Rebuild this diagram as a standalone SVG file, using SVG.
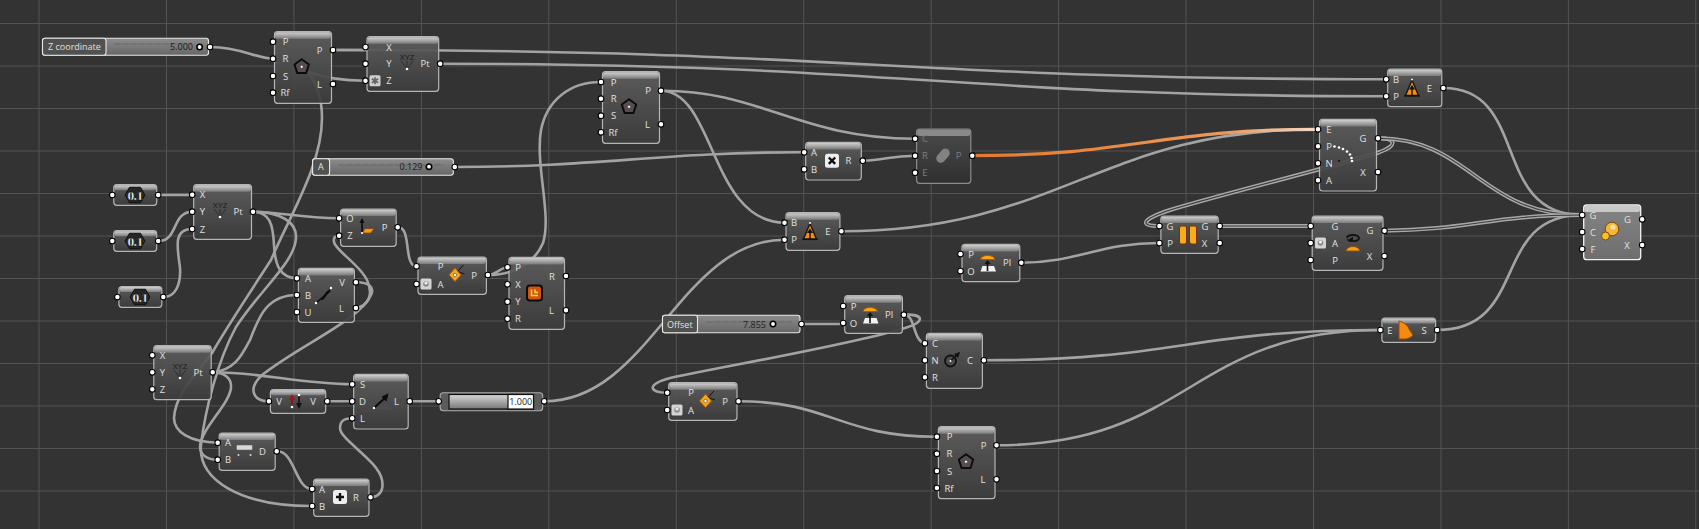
<svg xmlns="http://www.w3.org/2000/svg" xmlns:xlink="http://www.w3.org/1999/xlink" width="1699" height="529" viewBox="0 0 1699 529">
<style>
.g{stroke:#535353;stroke-width:1;fill:none}
.w{fill:none;stroke:#a3a3a3;stroke-width:2.6;stroke-linecap:round}
.d{fill:none;stroke:#a8a8a8;stroke-width:4}
.di{fill:none;stroke:#3c3c3c;stroke-width:1.1}
.b{fill:url(#body);stroke:#b5b5b5;stroke-width:1.2;fill-opacity:.93}
.bs{fill:url(#bodysel);stroke:#f2f2f2;stroke-width:1.3}
.bd{fill:url(#bodydis);stroke:#8a8a8a;stroke-width:1.2;fill-opacity:.95}
.h{fill:url(#head)}
.p{fill:#fff;stroke:#000;stroke-width:1.1}
text{font-family:"Open Sans","Noto Sans","Liberation Sans",sans-serif;font-size:9.5px;fill:#e0e0e0;text-anchor:middle;dominant-baseline:central}
.dim text{fill:#7d7d7d}
text.v{fill:#202020;font-size:9px}
text.sl{text-anchor:start;font-size:9px}
text.num{font-family:"Liberation Serif",serif;font-weight:bold;font-size:13.5px;letter-spacing:-.6px;fill:#fff;stroke:#000;stroke-width:.35}
text.xyz{font-size:7.5px;fill:#1a1a1a;font-family:"Liberation Sans",sans-serif}
.o{fill:#f5a614;stroke:#8a3c05;stroke-width:1}
</style>
<defs>
<linearGradient id="body" x1="0" y1="0" x2="0" y2="1"><stop offset="0" stop-color="#5e5e5e"/><stop offset="1" stop-color="#3c3c3c"/></linearGradient>
<linearGradient id="bodysel" x1="0" y1="0" x2="0" y2="1"><stop offset="0" stop-color="#848484"/><stop offset="1" stop-color="#6e6e6e"/></linearGradient>
<linearGradient id="bodydis" x1="0" y1="0" x2="0" y2="1"><stop offset="0" stop-color="#4c4c4c"/><stop offset="1" stop-color="#2f2f2f"/></linearGradient>
<linearGradient id="head" x1="0" y1="0" x2="0" y2="1"><stop offset="0" stop-color="#d0d0d0"/><stop offset="1" stop-color="#7a7a7a"/></linearGradient>
<linearGradient id="sv" x1="0" y1="0" x2="0" y2="1"><stop offset="0" stop-color="#8c8c8c"/><stop offset="1" stop-color="#666"/></linearGradient>
<linearGradient id="track" x1="0" y1="0" x2="0" y2="1"><stop offset="0" stop-color="#d8d8d8"/><stop offset="1" stop-color="#777"/></linearGradient>
<linearGradient id="or" gradientUnits="userSpaceOnUse" x1="973" y1="0" x2="1318" y2="0"><stop offset="0" stop-color="#e8782a"/><stop offset=".75" stop-color="#ea9a60"/><stop offset="1" stop-color="#f4dccb"/></linearGradient>
<g id="iPoly"><path d="M0,-7.5 7.2,-2.2 4.5,6.2 -4.5,6.2 -7.2,-2.2Z" fill="#564c52" stroke="#0c0c0c" stroke-width="2" stroke-linejoin="round"/><circle r="1.5" fill="#fff" stroke="#222" stroke-width=".5"/></g>
<g id="iXYZ"><text class="xyz" x="0" y="-5">XYZ</text><path d="M-6,-1 0,7M0,-1V7M6,-1 0,7" stroke="#222" stroke-width=".7" fill="none"/><circle cy="7" r="1.3" fill="#fff"/></g>
<g id="iAst"><rect x="-5.5" y="-5.5" width="11" height="11" rx="1.5" fill="#cfcfcf"/><path d="M0,-3.5V3.5M-3.2,-2 3.2,2M-3.2,2 3.2,-2" stroke="#666" stroke-width="1.7"/></g>
<g id="iA"><rect x="-5.5" y="-5.5" width="11" height="11" rx="1.5" fill="#d4d4d4"/><circle r="2.8" fill="#8a8a8a"/><circle cy="-1" r="1.6" fill="#eee"/></g>
<g id="iRot"><path d="M1,-3.5 7,-10M1,-3.5 8,-1" stroke="#111" stroke-width="1" fill="none"/><path d="M-1.5,-7 4.5,0 -1.5,6.5 -7.5,0Z" fill="#f5a614" stroke="#b4540a" stroke-width="1"/><circle cx="-1.5" r="1.6" fill="#fff" stroke="#333" stroke-width=".5"/></g>
<g id="iRect"><rect x="-7.5" y="-7.5" width="15" height="15" rx="3" fill="#d0560f" stroke="#0c0c0c" stroke-width="2"/><path d="M-3,-3.5V2.5H3.5M.5,-3.5V-.5H3.5" fill="none" stroke="#ffd24a" stroke-width="1.6"/></g>
<g id="iLine"><path d="M-8,8 6,-4" stroke="#0c0c0c" stroke-width="1.6"/><path d="M-2,5 3,-3 6,-5Z" stroke="#0c0c0c" stroke-width="1.5" fill="#0c0c0c"/><circle cx="-8" cy="8" r="1.2" fill="#fff"/><circle cx="7" cy="-7" r="1.2" fill="#fff"/></g>
<g id="iLine2"><path d="M-7,6H8" stroke="#555" stroke-width=".8"/><path d="M-7,6 6,-6" stroke="#0c0c0c" stroke-width="2"/><path d="M1,-5 7,-8 5,-1Z" fill="#0c0c0c" stroke="#0c0c0c"/><circle cx="-7" cy="6" r="1.2" fill="#fff"/></g>
<g id="iPlane"><path d="M-5,6V-7" stroke="#0c0c0c" stroke-width="1.6"/><path d="M-5,-9 -7.5,-4H-2.5Z" fill="#0c0c0c"/><path d="M-2,1.5H7L4,6H-4.5Z" fill="#f09a10" stroke="#7a3a08" stroke-width=".7"/><circle cx="-5" cy="6" r="1.1" fill="#fff"/></g>
<g id="iEval"><path d="M0,-8.5 6.5,7 -6.5,7Z" fill="#f58c14" stroke="#1a1a1a" stroke-width="1.5"/><path d="M0,7V-2" stroke="#111" stroke-width="1.4"/><path d="M0,-3.5 -3,1H3Z" fill="#111"/><path d="M-8,7.5H8" stroke="#111" stroke-width="1.2"/><circle cy="-9" r="1" fill="#fff"/></g>
<g id="iPl"><path d="M-7,-3.5C-6,-9 6,-9 7.5,-3.5Z" fill="#f7a510" stroke="#b5530c" stroke-width="1"/><path d="M-7,8.5H8.5L6.5,3H-5Z" fill="#f2f2f2"/><path d="M0,8V-2" stroke="#111" stroke-width="1.6"/><path d="M0,-3 -3,1H3Z" fill="#111"/></g>
<g id="iCirc"><circle cx="-1.5" cy="1" r="5.5" fill="none" stroke="#111" stroke-width="1.8"/><path d="M-1.5,1 7,-7" stroke="#111" stroke-width="1.6"/><path d="M2,-6 8,-8 6,-2Z" fill="#111"/><circle cx="-1.5" cy="1" r="1" fill="#fff"/></g>
<g id="iX"><rect x="-7" y="-7" width="14" height="14" rx="2.5" fill="#eee"/><path d="M-3.2,-3.2 3.2,3.2M-3.2,3.2 3.2,-3.2" stroke="#111" stroke-width="2.4"/></g>
<g id="iPlus"><rect x="-7" y="-7" width="14" height="14" rx="2.5" fill="#eee"/><path d="M-4,0H4M0,-4V4" stroke="#111" stroke-width="2.4"/></g>
<g id="iDis"><rect x="-4.5" y="-8" width="9" height="16" rx="4.5" transform="rotate(40)" fill="#828282"/></g>
<g id="iDist"><rect x="-8" y="-6" width="16" height="5" rx="1" fill="#d8d8d8" stroke="#555" stroke-width=".5"/><circle cx="-6" cy="4" r="1" fill="#ddd"/><circle cx="6" cy="4" r="1" fill="#ddd"/></g>
<g id="iFlip"><path d="M-6,6V-3" stroke="#8c1414" stroke-width="2"/><path d="M-6,-7 -9,-1H-3Z" fill="#a01616"/><path d="M1,-5V5" stroke="#111" stroke-width="1.6"/><path d="M1,8 -2,2H4Z" fill="#111"/><circle cx="-6" cy="6" r="1.3" fill="#fff"/><circle cx="1" cy="-6" r="1.3" fill="#fff"/></g>
<g id="iArc" fill="#fff"><circle cx="-9.5" cy="-8.5" r="1.3"/><circle cx="-5" cy="-7.5" r="1.3"/><circle cx="-1" cy="-6" r="1.3"/><circle cx="3" cy="-3.5" r="1.3"/><circle cx="6" cy="-.5" r="1.3"/><circle cx="7.5" cy="3" r="1.3"/><circle cx="8" cy="6" r="1.3"/><circle cx="-5" cy="6" r="1" fill="#111"/></g>
<g id="iSplit"><rect x="-8.5" y="-9" width="7" height="18" rx="2" fill="#f7ad1a" stroke="#7a2e06" stroke-width="1"/><path d="M1.5,-9H6.5C8.5,-9 8.5,-7 8.5,-6V9H3L1.5,7Z" fill="#f7ad1a" stroke="#7a2e06" stroke-width="1"/></g>
<g id="iSpin"><path d="M-6,-5C-6,-9 6,-9 6,-5C6,-1 -6,-1 -5,-4" fill="none" stroke="#111" stroke-width="1.8"/><path d="M-4,-4 0,-6V-1Z" fill="#111"/><path d="M-7,8C-6,2 6,2 7,8Z" fill="#f5a010" stroke="#8f4a0b" stroke-width="1"/></g>
<g id="iExt"><path d="M-6,-9C-2,-8 3,-5 4,-1L8,5C6,8 3,8 1,9H-6Z" fill="#f58a10" stroke="#a1470c" stroke-width="1"/></g>
<g id="iGrp"><circle cx="2" cy="-2" r="6.8" fill="#f6b53a" stroke="#7c4a10" stroke-width="1"/><circle cx="-4.5" cy="5" r="4" fill="#fbc21e" stroke="#7c4a10" stroke-width="1"/><circle cx="3" cy="-4" r="2.6" fill="#ffe3a2"/></g>
<g id="iHex"><path d="M-10,0 -5.5,-7.7H5.5L10,0 5.5,7.7H-5.5Z" fill="#262626" stroke="#111"/></g>
</defs>

<rect width="1699" height="529" fill="#333333"/>
<g id="grid">
<path class="g" d="M39,0V529M166.5,0V529M293.9,0V529M421.4,0V529M548.8,0V529M676.3,0V529M803.7,0V529M931.2,0V529M1058.6,0V529M1186,0V529M1313.5,0V529M1441,0V529M1568.4,0V529M1695.8,0V529"/>
<path class="g" d="M0,23.5H1699M0,66H1699M0,108.5H1699M0,151H1699M0,193.5H1699M0,236H1699M0,278.5H1699M0,321H1699M0,363.5H1699M0,406H1699M0,448.5H1699M0,491H1699"/>
</g>

<g id="connectors">
<path class="w" d="M211,47C240,47 255,58 272.5,58.7"/>
<path class="w" d="M333.5,50H365"/>
<path class="w" d="M333.5,50C850,50 900,79 1385.7,79.3"/>
<path class="w" d="M440.7,63.7C900,64 950,96 1385.7,96.3"/>
<path class="w" d="M365,80.7C345,80.7 325,78 308,72C318,85 322,100 322,118C322,165 290,215 271,260C245,300 225,330 212,353C195,375 175,395 174,418C174,432 190,442 217.5,442.7"/>
<path class="w" d="M158.7,195H192"/>
<path class="w" d="M158.7,241C178,241 172,212 192,211.7"/>
<path class="w" d="M163.8,297C175,297 181,285 180,268C178,250 172,229 192,229"/>
<path class="w" d="M253,211.7C280,212 300,218 339,218.3"/>
<path class="w" d="M253,211.7C270,212 273,225 274,245C275,265 280,278 297,278.3"/>
<path class="w" d="M253,211.7C280,212 297,222 296,238C295,262 260,290 236,327C218,360 205,410 201,445C198,480 240,506 312,506"/>
<path class="w" d="M213,372.3C260,372 300,384 352,384.3"/>
<path class="w" d="M213,372.3C235,370 242,355 250,340C258,320 265,295 297,295"/>
<path class="w" d="M213,372.3C225,373 232,378 231,388C229,405 200,430 200,447C200,455 208,460 217.5,459.7"/>
<path class="w" d="M398,227.3C412,227 403,266 416.5,266.3"/>
<path class="w" d="M488,275C495,275 500,268 507.5,267.3"/>
<path class="w" d="M488,275C515,275 535,262 543,243C552,215 535,165 541,130C547,100 570,82 601,82"/>
<path class="w" d="M356,282.3C368,282 375,287 371,295C360,320 300,345 262,375C248,388 252,401 268.9,401.3"/>
<path class="w" d="M356,308C368,306 374,295 367,280C360,265 335,250 334,242C333,237 336,235.7 339,235.7"/>
<path class="w" d="M327.2,401.3H352.2"/>
<path class="w" d="M409.7,401.3H438.7"/>
<path class="w" d="M277,451.3C295,451 295,489 312.2,489"/>
<path class="w" d="M370.5,497.3C380,497 384,490 382,480C378,460 340,440 340,428C340,420 345,418.3 352.2,418.3"/>
<path class="w" d="M544.7,401.3C650,401 680,240 784.5,239.7"/>
<path class="w" d="M661,90.7C760,90 800,139 915,138.7"/>
<path class="w" d="M661,90.7C715,91 710,222 784.5,222.7"/>
<path class="w" d="M455.3,167C600,167 660,152 804.2,152.3"/>
<path class="w" d="M862.8,160.7C885,160 890,156 915,155.7"/>
<path class="w" d="M841.4,231.3C1060,231 1100,129 1318,129.3"/>
<path fill="none" stroke="url(#or)" stroke-width="3.2" d="M972.3,155.7C1130,155.7 1160,129.3 1318,129.3"/>
<path class="w" d="M1021.3,262.7C1080,262 1100,243 1159.4,243"/>
<path class="w" d="M802,324H843.2"/>
<path class="w" d="M903.9,314.7C916,315 912,340 924.9,343.3"/>
<path class="w" d="M903.9,314.7C925,314 925,322 905,328C850,345 730,365 670,378C645,385 650,392.7 667.2,392.7"/>
<path class="w" d="M738.5,401.3C830,401 840,437 936.9,436.7"/>
<path class="w" d="M983.9,360.3C1180,360 1190,330 1380.4,330"/>
<path class="w" d="M996.5,445.3C1190,445 1190,330 1380.4,330"/>
<path class="w" d="M1443.3,88C1530,88 1490,215 1582.2,215"/>
<path class="w" d="M1437.1,330C1530,330 1490,215 1582.2,215"/>
<g id="double-wires">
<path class="d" d="M1378,138.3C1396,138 1398,145 1380,152C1340,165 1230,192 1170,210C1140,220 1140,226 1159.4,226"/>
<path class="di" d="M1378,138.3C1396,138 1398,145 1380,152C1340,165 1230,192 1170,210C1140,220 1140,226 1159.4,226"/>
<path class="d" d="M1378,138.3C1470,138 1480,215 1582.2,215"/>
<path class="di" d="M1378,138.3C1470,138 1480,215 1582.2,215"/>
<path class="d" d="M1219.7,226H1310.7"/>
<path class="di" d="M1219.7,226H1310.7"/>
<path class="d" d="M1384.5,230.7C1470,230 1490,215 1582.2,215"/>
<path class="di" d="M1384.5,230.7C1470,230 1490,215 1582.2,215"/>
</g>
</g>

<g id="slider-z">
<rect x="42.5" y="38.3" width="166" height="17" rx="2.5" fill="url(#sv)" stroke="#e8e8e8" stroke-width="1.1"/>
<rect x="42.5" y="38.3" width="63.5" height="17" rx="2.5" fill="#515151" stroke="#e8e8e8" stroke-width="1.1"/>
<path d="M114,44H192" stroke="#666" stroke-width="1" stroke-dasharray="7 1"/>
<text class="sl" x="48" y="46.7">Z coordinate</text>
<text class="v" x="181.5" y="46.7">5.000</text>
<circle cx="199.6" cy="47" r="2.7" fill="#fff" stroke="#000" stroke-width="1.6"/>
<circle class="p" cx="210" cy="47" r="2.8"/>
</g>
<g id="slider-a">
<rect x="312.6" y="158.7" width="140.7" height="16.6" rx="2.5" fill="url(#sv)" stroke="#e8e8e8" stroke-width="1.1"/>
<rect x="312.6" y="158.7" width="17" height="16.6" rx="2.5" fill="#515151" stroke="#e8e8e8" stroke-width="1.1"/>
<path d="M338,165H444" stroke="#666" stroke-width="1" stroke-dasharray="7 1"/>
<text class="sl" x="318" y="166.7">A</text>
<text class="v" x="411" y="166.7">0.129</text>
<circle cx="429" cy="166.7" r="2.7" fill="#fff" stroke="#000" stroke-width="1.6"/>
<circle class="p" cx="454.8" cy="167" r="2.8"/>
</g>
<g id="slider-offset">
<rect x="662.5" y="315.3" width="137.5" height="17.4" rx="2.5" fill="url(#sv)" stroke="#e8e8e8" stroke-width="1.1"/>
<rect x="662.5" y="315.3" width="35" height="17.4" rx="2.5" fill="#515151" stroke="#e8e8e8" stroke-width="1.1"/>
<path d="M706,322H792" stroke="#666" stroke-width="1" stroke-dasharray="7 1"/>
<text class="sl" x="667" y="324">Offset</text>
<text class="v" x="754.5" y="324">7.855</text>
<circle cx="773" cy="324" r="2.7" fill="#fff" stroke="#000" stroke-width="1.6"/>
<circle class="p" cx="801.5" cy="324" r="2.8"/>
</g>
<g id="slider-one">
<rect x="440.2" y="392.7" width="102.5" height="18" rx="3" fill="#5c5c5c" stroke="#aaa" stroke-width="1.1"/>
<rect x="449" y="394.5" width="84.5" height="14.5" fill="url(#track)" stroke="#111" stroke-width="1.2"/>
<rect x="508" y="394.5" width="25.5" height="14.5" fill="#fff" stroke="#111" stroke-width="1.2"/>
<text class="v" x="520.8" y="401.7">1.000</text>
<circle class="p" cx="438.7" cy="401.3" r="2.8"/><circle class="p" cx="544.2" cy="401.3" r="2.8"/>
</g>

<g id="num-a"><rect class="b" x="113.8" y="184.7" width="42.9" height="20.6" rx="3"/><rect class="h" x="114.4" y="185.3" width="41.7" height="5" rx="2"/><use xlink:href="#iHex" x="135" y="195"/><text class="num" x="135" y="195.5">0.1</text><circle class="p" cx="112.3" cy="195" r="2.8"/><circle class="p" cx="158.2" cy="195" r="2.8"/></g>
<g id="num-b"><rect class="b" x="113.8" y="230.7" width="42.9" height="20.6" rx="3"/><rect class="h" x="114.4" y="231.3" width="41.7" height="5" rx="2"/><use xlink:href="#iHex" x="135" y="241"/><text class="num" x="135" y="241.5">0.1</text><circle class="p" cx="112.3" cy="241" r="2.8"/><circle class="p" cx="158.2" cy="241" r="2.8"/></g>
<g id="num-c"><rect class="b" x="118.9" y="286.5" width="42.9" height="20.8" rx="3"/><rect class="h" x="119.5" y="287.1" width="41.7" height="5" rx="2"/><use xlink:href="#iHex" x="140" y="297"/><text class="num" x="140" y="297.5">0.1</text><circle class="p" cx="117.4" cy="297" r="2.8"/><circle class="p" cx="163.3" cy="297" r="2.8"/></g>

<g id="polygon-1"><rect class="b" x="274.5" y="31.7" width="57" height="71.6" rx="3"/><rect class="h" x="275.1" y="32.3" width="55.8" height="6.5" rx="2.5"/><use xlink:href="#iPoly" x="301.7" y="66.7"/>
<text x="285.5" y="41.7">P</text><text x="285.5" y="58.7">R</text><text x="285.5" y="76">S</text><text x="285" y="92.7">Rf</text><text x="319.5" y="50">P</text><text x="319.5" y="84">L</text>
<circle class="p" cx="273" cy="41.7" r="2.8"/><circle class="p" cx="273" cy="58.7" r="2.8"/><circle class="p" cx="273" cy="76" r="2.8"/><circle class="p" cx="273" cy="92.7" r="2.8"/><circle class="p" cx="333" cy="50" r="2.8"/><circle class="p" cx="333" cy="84" r="2.8"/></g>

<g id="xyz-1"><rect class="b" x="367" y="36.7" width="71.7" height="54.6" rx="3"/><rect class="h" x="367.6" y="37.3" width="70.5" height="6.5" rx="2.5"/><use xlink:href="#iXYZ" x="407" y="62"/><use xlink:href="#iAst" x="375" y="80.7"/>
<text x="389" y="47">X</text><text x="389" y="63.7">Y</text><text x="389" y="80.7">Z</text><text x="425" y="63.7">Pt</text>
<circle class="p" cx="365.5" cy="47" r="2.8"/><circle class="p" cx="365.5" cy="63.7" r="2.8"/><circle class="p" cx="365.5" cy="80.7" r="2.8"/><circle class="p" cx="440.2" cy="63.7" r="2.8"/></g>

<g id="xyz-2"><rect class="b" x="193.7" y="184.7" width="57.8" height="54.6" rx="3"/><rect class="h" x="194.3" y="185.3" width="56.6" height="6.5" rx="2.5"/><use xlink:href="#iXYZ" x="220" y="210"/>
<text x="202.5" y="194.7">X</text><text x="202.5" y="211.7">Y</text><text x="202.5" y="229">Z</text><text x="238" y="211.7">Pt</text>
<circle class="p" cx="192.2" cy="194.7" r="2.8"/><circle class="p" cx="192.2" cy="211.7" r="2.8"/><circle class="p" cx="192.2" cy="229" r="2.8"/><circle class="p" cx="253" cy="211.7" r="2.8"/></g>

<g id="xyz-3"><rect class="b" x="153.8" y="345.7" width="57.4" height="54" rx="3"/><rect class="h" x="154.4" y="346.3" width="56.2" height="6.5" rx="2.5"/><use xlink:href="#iXYZ" x="180" y="371"/>
<text x="162.5" y="355.3">X</text><text x="162.5" y="372.3">Y</text><text x="162.5" y="389.3">Z</text><text x="198" y="372.3">Pt</text>
<circle class="p" cx="152.3" cy="355.3" r="2.8"/><circle class="p" cx="152.3" cy="372.3" r="2.8"/><circle class="p" cx="152.3" cy="389.3" r="2.8"/><circle class="p" cx="212.7" cy="372.3" r="2.8"/></g>

<g id="plane-oz"><rect class="b" x="340.6" y="209" width="55.6" height="37.3" rx="3"/><rect class="h" x="341.2" y="209.6" width="54.4" height="6.5" rx="2.5"/><use xlink:href="#iPlane" x="367" y="227"/>
<text x="350" y="218.3">O</text><text x="350" y="235.7">Z</text><text x="384.5" y="227.3">P</text>
<circle class="p" cx="339.1" cy="218.3" r="2.8"/><circle class="p" cx="339.1" cy="235.7" r="2.8"/><circle class="p" cx="397.7" cy="227.3" r="2.8"/></g>

<g id="rotate-1"><rect class="b" x="418" y="257" width="68.4" height="37.3" rx="3"/><rect class="h" x="418.6" y="257.6" width="67.2" height="6.5" rx="2.5"/><use xlink:href="#iRot" x="456.5" y="275"/><use xlink:href="#iA" x="426" y="284"/>
<text x="440.5" y="266.3">P</text><text x="440.5" y="284">A</text><text x="474" y="275">P</text>
<circle class="p" cx="416.5" cy="266.3" r="2.8"/><circle class="p" cx="416.5" cy="284" r="2.8"/><circle class="p" cx="487.9" cy="275" r="2.8"/></g>

<g id="rectangle"><rect class="b" x="509" y="257.3" width="55.5" height="72" rx="3"/><rect class="h" x="509.6" y="257.9" width="54.3" height="6.5" rx="2.5"/><use xlink:href="#iRect" x="534.5" y="293"/>
<text x="518" y="267.3">P</text><text x="518" y="284.3">X</text><text x="518" y="301.7">Y</text><text x="518" y="318.7">R</text><text x="552" y="276">R</text><text x="551.5" y="310.3">L</text>
<circle class="p" cx="507.5" cy="267.3" r="2.8"/><circle class="p" cx="507.5" cy="284.3" r="2.8"/><circle class="p" cx="507.5" cy="301.7" r="2.8"/><circle class="p" cx="507.5" cy="318.7" r="2.8"/><circle class="p" cx="566" cy="276" r="2.8"/><circle class="p" cx="566" cy="310.3" r="2.8"/></g>

<g id="line-abu"><rect class="b" x="298.4" y="268.3" width="56" height="54" rx="3"/><rect class="h" x="299" y="268.9" width="54.8" height="6.5" rx="2.5"/><use xlink:href="#iLine" x="324" y="295"/>
<text x="308" y="278.3">A</text><text x="308" y="295">B</text><text x="308" y="312">U</text><text x="342" y="282.3">V</text><text x="341.5" y="308">L</text>
<circle class="p" cx="296.9" cy="278.3" r="2.8"/><circle class="p" cx="296.9" cy="295" r="2.8"/><circle class="p" cx="296.9" cy="312" r="2.8"/><circle class="p" cx="355.9" cy="282.3" r="2.8"/><circle class="p" cx="355.9" cy="308" r="2.8"/></g>

<g id="flip"><rect class="b" x="270.4" y="389.7" width="55.3" height="23.6" rx="3"/><rect class="h" x="271" y="390.3" width="54.1" height="5" rx="2"/><use xlink:href="#iFlip" x="298" y="401"/>
<text x="279" y="401.3">V</text><text x="313" y="401.3">V</text>
<circle class="p" cx="268.9" cy="401.3" r="2.8"/><circle class="p" cx="327.2" cy="401.3" r="2.8"/></g>

<g id="line-sdl"><rect class="b" x="353.7" y="374.3" width="54.5" height="54.7" rx="3"/><rect class="h" x="354.3" y="374.9" width="53.3" height="6.5" rx="2.5"/><use xlink:href="#iLine2" x="381" y="402"/>
<text x="362.5" y="384.3">S</text><text x="362.5" y="401.3">D</text><text x="362.5" y="418.3">L</text><text x="396.5" y="401.3">L</text>
<circle class="p" cx="352.2" cy="384.3" r="2.8"/><circle class="p" cx="352.2" cy="401.3" r="2.8"/><circle class="p" cx="352.2" cy="418.3" r="2.8"/><circle class="p" cx="409.7" cy="401.3" r="2.8"/></g>

<g id="distance"><rect class="b" x="219.2" y="433" width="56" height="37.3" rx="3"/><rect class="h" x="219.8" y="433.6" width="54.8" height="6.5" rx="2.5"/><use xlink:href="#iDist" x="244.5" y="451"/>
<text x="228" y="442.7">A</text><text x="228" y="459.7">B</text><text x="262.5" y="451.3">D</text>
<circle class="p" cx="217.7" cy="442.7" r="2.8"/><circle class="p" cx="217.7" cy="459.7" r="2.8"/><circle class="p" cx="276.7" cy="451.3" r="2.8"/></g>

<g id="addition"><rect class="b" x="313.7" y="479" width="55.3" height="37.3" rx="3"/><rect class="h" x="314.3" y="479.6" width="54.1" height="6.5" rx="2.5"/><use xlink:href="#iPlus" x="340" y="497"/>
<text x="322" y="489">A</text><text x="322" y="506">B</text><text x="356" y="497.3">R</text>
<circle class="p" cx="312.2" cy="489" r="2.8"/><circle class="p" cx="312.2" cy="506" r="2.8"/><circle class="p" cx="370.5" cy="497.3" r="2.8"/></g>

<g id="polygon-2"><rect class="b" x="602.5" y="71.7" width="57" height="71.6" rx="3"/><rect class="h" x="603.1" y="72.3" width="55.8" height="6.5" rx="2.5"/><use xlink:href="#iPoly" x="629" y="106.7"/>
<text x="613.7" y="82">P</text><text x="613.7" y="98.7">R</text><text x="613.7" y="115.7">S</text><text x="613" y="132.3">Rf</text><text x="648" y="90.7">P</text><text x="647.6" y="124.3">L</text>
<circle class="p" cx="601" cy="82" r="2.8"/><circle class="p" cx="601" cy="98.7" r="2.8"/><circle class="p" cx="601" cy="115.7" r="2.8"/><circle class="p" cx="601" cy="132.3" r="2.8"/><circle class="p" cx="661" cy="90.7" r="2.8"/><circle class="p" cx="661" cy="124.3" r="2.8"/></g>

<g id="multiply"><rect class="b" x="805.7" y="142.3" width="55.6" height="37.7" rx="3"/><rect class="h" x="806.3" y="142.9" width="54.4" height="6.5" rx="2.5"/><use xlink:href="#iX" x="832" y="160.7"/>
<text x="814" y="152.3">A</text><text x="814" y="169.3">B</text><text x="848.5" y="160.7">R</text>
<circle class="p" cx="804.2" cy="152.3" r="2.8"/><circle class="p" cx="804.2" cy="169.3" r="2.8"/><circle class="p" cx="862.8" cy="160.7" r="2.8"/></g>

<g id="disabled-offset" class="dim"><rect class="bd" x="916.6" y="129" width="54.2" height="54.3" rx="3"/><rect x="917.2" y="129.6" width="53" height="6.5" rx="2.5" fill="#8a8a8a"/><use xlink:href="#iDis" x="943" y="155.7"/>
<text x="925" y="138.7">C</text><text x="925" y="155.7">R</text><text x="925" y="172.7">E</text><text x="958.5" y="155.7">P</text>
<circle class="p" cx="915.1" cy="138.7" r="2.8"/><circle class="p" cx="915.1" cy="155.7" r="2.8"/><circle class="p" cx="915.1" cy="172.7" r="2.8"/><circle class="p" cx="972.3" cy="155.7" r="2.8"/></g>

<g id="evaluate-1"><rect class="b" x="786" y="212.7" width="53.9" height="37.6" rx="3"/><rect class="h" x="786.6" y="213.3" width="52.7" height="6.5" rx="2.5"/><use xlink:href="#iEval" x="810" y="232"/>
<text x="794" y="222.7">B</text><text x="794" y="239.7">P</text><text x="828" y="231.3">E</text>
<circle class="p" cx="784.5" cy="222.7" r="2.8"/><circle class="p" cx="784.5" cy="239.7" r="2.8"/><circle class="p" cx="841.4" cy="231.3" r="2.8"/></g>

<g id="plane-po-1"><rect class="b" x="962" y="244.3" width="57.8" height="37.4" rx="3"/><rect class="h" x="962.6" y="244.9" width="56.6" height="6.5" rx="2.5"/><use xlink:href="#iPl" x="987.5" y="263"/>
<text x="971" y="254">P</text><text x="971" y="271">O</text><text x="1007" y="262.7">Pl</text>
<circle class="p" cx="960.5" cy="254" r="2.8"/><circle class="p" cx="960.5" cy="271" r="2.8"/><circle class="p" cx="1021.3" cy="262.7" r="2.8"/></g>

<g id="plane-po-2"><rect class="b" x="844.7" y="295.7" width="57.7" height="37.6" rx="3"/><rect class="h" x="845.3" y="296.3" width="56.5" height="6.5" rx="2.5"/><use xlink:href="#iPl" x="870" y="315"/>
<text x="853.5" y="306">P</text><text x="853.5" y="323">O</text><text x="889" y="314.7">Pl</text>
<circle class="p" cx="843.2" cy="306" r="2.8"/><circle class="p" cx="843.2" cy="323" r="2.8"/><circle class="p" cx="903.9" cy="314.7" r="2.8"/></g>

<g id="rotate-2"><rect class="b" x="668.7" y="382.7" width="68.3" height="37.6" rx="3"/><rect class="h" x="669.3" y="383.3" width="67.1" height="6.5" rx="2.5"/><use xlink:href="#iRot" x="707" y="401"/><use xlink:href="#iA" x="677" y="410"/>
<text x="691" y="392.7">P</text><text x="691" y="410">A</text><text x="725" y="401.3">P</text>
<circle class="p" cx="667.2" cy="392.7" r="2.8"/><circle class="p" cx="667.2" cy="410" r="2.8"/><circle class="p" cx="738.5" cy="401.3" r="2.8"/></g>

<g id="circle-cnr"><rect class="b" x="926.4" y="333.3" width="56" height="55" rx="3"/><rect class="h" x="927" y="333.9" width="54.8" height="6.5" rx="2.5"/><use xlink:href="#iCirc" x="952" y="360"/>
<text x="935" y="343.3">C</text><text x="935" y="360.3">N</text><text x="935" y="377.3">R</text><text x="970" y="360.3">C</text>
<circle class="p" cx="924.9" cy="343.3" r="2.8"/><circle class="p" cx="924.9" cy="360.3" r="2.8"/><circle class="p" cx="924.9" cy="377.3" r="2.8"/><circle class="p" cx="983.9" cy="360.3" r="2.8"/></g>

<g id="polygon-3"><rect class="b" x="938.4" y="426.7" width="56.6" height="72" rx="3"/><rect class="h" x="939" y="427.3" width="55.4" height="6.5" rx="2.5"/><use xlink:href="#iPoly" x="966" y="461.7"/>
<text x="949.5" y="436.7">P</text><text x="949.5" y="453.7">R</text><text x="949.5" y="471">S</text><text x="949" y="488">Rf</text><text x="983.5" y="445.3">P</text><text x="983" y="479.3">L</text>
<circle class="p" cx="936.9" cy="436.7" r="2.8"/><circle class="p" cx="936.9" cy="453.7" r="2.8"/><circle class="p" cx="936.9" cy="471" r="2.8"/><circle class="p" cx="936.9" cy="488" r="2.8"/><circle class="p" cx="996.5" cy="445.3" r="2.8"/><circle class="p" cx="996.5" cy="479.3" r="2.8"/></g>

<g id="evaluate-2"><rect class="b" x="1387.7" y="69" width="54.1" height="37.7" rx="3"/><rect class="h" x="1388.3" y="69.6" width="52.9" height="6.5" rx="2.5"/><use xlink:href="#iEval" x="1412" y="88.5"/>
<text x="1396" y="79.3">B</text><text x="1396" y="96.3">P</text><text x="1429.5" y="88">E</text>
<circle class="p" cx="1386.2" cy="79.3" r="2.8"/><circle class="p" cx="1386.2" cy="96.3" r="2.8"/><circle class="p" cx="1443.3" cy="88" r="2.8"/></g>

<g id="arc"><rect class="b" x="1319.5" y="119.3" width="57" height="71.7" rx="3"/><rect class="h" x="1320.1" y="119.9" width="55.8" height="6.5" rx="2.5"/><use xlink:href="#iArc" x="1344" y="155"/>
<text x="1329" y="129.3">E</text><text x="1329" y="146.3">P</text><text x="1329" y="163.3">N</text><text x="1329" y="180.3">A</text><text x="1363" y="138.3">G</text><text x="1363" y="172">X</text>
<circle class="p" cx="1318" cy="129.3" r="2.8"/><circle class="p" cx="1318" cy="146.3" r="2.8"/><circle class="p" cx="1318" cy="163.3" r="2.8"/><circle class="p" cx="1318" cy="180.3" r="2.8"/><circle class="p" cx="1378" cy="138.3" r="2.8"/><circle class="p" cx="1378" cy="172" r="2.8"/></g>

<g id="split"><rect class="b" x="1160.9" y="216" width="57.3" height="37.3" rx="3"/><rect class="h" x="1161.5" y="216.6" width="56.1" height="6.5" rx="2.5"/><use xlink:href="#iSplit" x="1188" y="235"/>
<text x="1170" y="226">G</text><text x="1170" y="243">P</text><text x="1205" y="226">G</text><text x="1204.5" y="243">X</text>
<circle class="p" cx="1159.4" cy="226" r="2.8"/><circle class="p" cx="1159.4" cy="243" r="2.8"/><circle class="p" cx="1219.7" cy="226" r="2.8"/><circle class="p" cx="1219.7" cy="243" r="2.8"/></g>

<g id="rotate-geo"><rect class="b" x="1312.2" y="216" width="70.8" height="54.3" rx="3"/><rect class="h" x="1312.8" y="216.6" width="69.6" height="6.5" rx="2.5"/><use xlink:href="#iSpin" x="1353" y="243"/><use xlink:href="#iA" x="1320.5" y="243"/>
<text x="1335" y="226">G</text><text x="1335" y="243">A</text><text x="1335" y="260">P</text><text x="1370" y="230.7">G</text><text x="1369.5" y="256">X</text>
<circle class="p" cx="1310.7" cy="226" r="2.8"/><circle class="p" cx="1310.7" cy="243" r="2.8"/><circle class="p" cx="1310.7" cy="260" r="2.8"/><circle class="p" cx="1384.5" cy="230.7" r="2.8"/><circle class="p" cx="1384.5" cy="256" r="2.8"/></g>

<g id="extrude"><rect class="b" x="1381.9" y="318" width="53.7" height="24.3" rx="3"/><rect class="h" x="1382.5" y="318.6" width="52.5" height="5" rx="2"/><use xlink:href="#iExt" x="1405" y="330"/>
<text x="1390" y="330">E</text><text x="1424" y="330">S</text>
<circle class="p" cx="1380.4" cy="330" r="2.8"/><circle class="p" cx="1437.1" cy="330" r="2.8"/></g>

<g id="group-node"><rect class="bs" x="1583.7" y="205" width="57" height="54.7" rx="3"/><rect x="1584.3" y="205.6" width="55.8" height="6.5" rx="2.5" fill="#c8c8c8"/><use xlink:href="#iGrp" x="1610" y="231"/>
<text x="1593" y="215">G</text><text x="1593" y="232">C</text><text x="1593" y="249">F</text><text x="1627.5" y="219.3">G</text><text x="1627" y="245">X</text>
<circle class="p" cx="1582.2" cy="215" r="2.8"/><circle class="p" cx="1582.2" cy="232" r="2.8"/><circle class="p" cx="1582.2" cy="249" r="2.8"/><circle class="p" cx="1642.2" cy="219.3" r="2.8"/><circle class="p" cx="1642.2" cy="245" r="2.8"/></g>
</svg>
